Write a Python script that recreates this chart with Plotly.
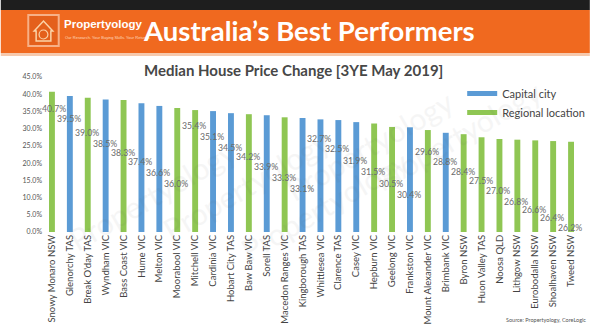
import plotly.graph_objects as go

# ---------------- data ----------------
locations = [
    "Snowy Monaro NSW", "Glenorchy TAS", "Break O'day TAS", "Wyndham VIC", "Bass Coast VIC",
    "Hume VIC", "Melton VIC", "Moorabool VIC", "Mitchell VIC", "Cardinia VIC",
    "Hobart City TAS", "Baw Baw VIC", "Sorell TAS", "Macedon Ranges VIC", "Kingborough TAS",
    "Whittlesea VIC", "Clarence TAS", "Casey VIC", "Hepburn VIC", "Geelong VIC",
    "Frankston VIC", "Mount Alexander VIC", "Brimbank VIC", "Byron NSW", "Huon Valley TAS",
    "Noosa QLD", "Lithgow NSW", "Eurobodalla NSW", "Shoalhaven NSW", "Tweed NSW",
]
price_change = [
    40.7, 39.5, 39.0, 38.5, 38.3, 37.4, 36.6, 36.0, 35.4, 35.1,
    34.5, 34.2, 33.9, 33.3, 33.1, 32.7, 32.5, 31.9, 31.5, 30.5,
    30.4, 29.6, 28.8, 28.4, 27.5, 27.0, 26.8, 26.6, 26.4, 26.2,
]
location_type = [
    "R", "C", "R", "C", "R", "C", "C", "R", "R", "C",
    "C", "R", "C", "R", "C", "C", "C", "C", "R", "R",
    "C", "R", "C", "R", "R", "R", "R", "R", "R", "R",
]
y_ticks = [0, 5, 10, 15, 20, 25, 30, 35, 40, 45]

# label placement (layout only, in axis units) - staggered like the original
label_y_pos = [
    35.9, 33.0, 29.0, 25.8, 23.2, 20.6, 17.4, 14.2,
    31.0, 27.8, 24.6, 22.0, 19.1, 15.7, 12.5,
    27.2, 24.3, 20.9, 17.7, 14.2, 11.0,
    23.5, 20.6, 17.7, 15.0, 12.0, 9.0, 6.4, 4.3, 1.2,
]

BLUE = "#5b9bd5"
GREEN = "#8fc653"
W, H = 600, 324
L, R, T, B = 43, 590, 77, 232


def xp(px):
    return (px - L) / (R - L)


def yp(py):
    return (B - py) / (B - T)


colors = [BLUE if t == "C" else GREEN for t in location_type]

fig = go.Figure()
fig.add_trace(go.Bar(
    x=locations, y=price_change, marker=dict(color=colors, line=dict(width=0)),
    width=0.33, showlegend=False, hoverinfo="x+y",
))
# legend entries
fig.add_trace(go.Scatter(x=[None], y=[None], mode="lines", name="Capital city",
                         line=dict(color=BLUE, width=5)))
fig.add_trace(go.Scatter(x=[None], y=[None], mode="lines", name="Regional location",
                         line=dict(color=GREEN, width=5)))

annotations = []
for i, (loc, v, ly) in enumerate(zip(locations, price_change, label_y_pos)):
    annotations.append(dict(
        x=loc, y=ly, xref="x", yref="y", text=f"{v:.1f}%", showarrow=False,
        font=dict(family="Lato, sans-serif", size=8.7, color="#6b6b6b"),
        xshift=2 if i == 0 else -1,
    ))

# banner texts
annotations += [
    dict(x=xp(62), y=yp(24), xref="paper", yref="paper", xanchor="left", yanchor="middle",
         text="<b>Propertyology</b>", showarrow=False,
         font=dict(family="Liberation Sans, Arial", size=11.5, color="white")),
    dict(x=xp(63), y=yp(37), xref="paper", yref="paper", xanchor="left", yanchor="middle",
         text="Our Research. Your Buying Skills. Your Returns.", showarrow=False,
         font=dict(family="Liberation Sans, Arial", size=4, color="#ffd9bf")),
    dict(x=xp(143), y=yp(31), xref="paper", yref="paper", xanchor="left", yanchor="middle",
         text="<b>Australia\u2019s Best Performers</b>", showarrow=False,
         font=dict(family="Lato, sans-serif", size=27.5, color="white")),
    dict(x=xp(298), y=yp(70), xref="paper", yref="paper", xanchor="center", yanchor="middle",
         text="<b>Median House Price Change [3YE May 2019]</b>", showarrow=False,
         font=dict(family="Lato, sans-serif", size=15, color="#474747")),
    dict(x=xp(598), y=yp(320), xref="paper", yref="paper", xanchor="right", yanchor="middle",
         text="Source: Propertyology, CoreLogic", showarrow=False,
         font=dict(family="Lato, sans-serif", size=5.5, color="#555555")),
]
# faint watermarks
for wx, wy in [(60, 260), (250, 120), (470, 80), (330, 270), (560, 200)]:
    annotations.append(dict(x=xp(wx), y=yp(wy), xref="paper", yref="paper", text="Propertyology",
                            showarrow=False, textangle=-30, opacity=0.05,
                            font=dict(family="Lato, sans-serif", size=30, color="#555555")))

shapes = [
    dict(type="rect", xref="paper", yref="paper", x0=xp(0), x1=xp(W), y0=yp(0), y1=yp(10),
         fillcolor="#1e1e1e", line=dict(width=0), layer="below"),
    dict(type="rect", xref="paper", yref="paper", x0=xp(0), x1=xp(W), y0=yp(10), y1=yp(53),
         fillcolor="#f0691f", line=dict(width=0), layer="below"),
    dict(type="rect", xref="paper", yref="paper", x0=xp(0), x1=xp(W), y0=yp(53), y1=yp(56),
         fillcolor="#f6c9ad", line=dict(width=0), layer="below"),
    # logo tile
    dict(type="rect", xref="paper", yref="paper", x0=xp(28), x1=xp(59), y0=yp(15), y1=yp(46),
         fillcolor="#e4601b", line=dict(color="#f7b086", width=2)),
    # simple house outline in logo
    dict(type="path", xref="paper", yref="paper",
         path=f"M {xp(34)},{yp(31)} L {xp(43.5)},{yp(21)} L {xp(53)},{yp(31)} L {xp(51)},{yp(31)} "
              f"L {xp(51)},{yp(41)} L {xp(36)},{yp(41)} L {xp(36)},{yp(31)} Z",
         fillcolor="rgba(0,0,0,0)", line=dict(color="#fbd3a8", width=1.5)),
    dict(type="circle", xref="paper", yref="paper", x0=xp(39), x1=xp(48), y0=yp(30), y1=yp(39),
         fillcolor="rgba(0,0,0,0)", line=dict(color="#fbd3a8", width=1.2)),
]

fig.update_layout(
    width=W, height=H,
    margin=dict(l=L, r=W - R, t=T, b=H - B),
    paper_bgcolor="white", plot_bgcolor="white",
    bargap=0.67,
    showlegend=True,
    legend=dict(x=xp(470), y=yp(79), xanchor="left", yanchor="top",
                bgcolor="rgba(0,0,0,0)", font=dict(family="Lato, sans-serif", size=11, color="#444444"),
                itemwidth=30, tracegroupgap=0),
    annotations=annotations,
    shapes=shapes,
    xaxis=dict(type="category", categoryorder="array", categoryarray=locations,
               tickangle=-90, showgrid=False, showline=False, ticks="", automargin=False,
               tickfont=dict(family="Lato, sans-serif", size=9.5, color="#444444"),
               range=[-0.5, len(locations) - 0.5]),
    yaxis=dict(range=[0, 45], tickvals=y_ticks, ticktext=[f"{t:.1f}%" for t in y_ticks],
               showgrid=False, zeroline=False, showline=False, ticks="", automargin=False,
               tickfont=dict(family="Lato, sans-serif", size=7, color="#555555")),
)

fig.write_html("out.html")
